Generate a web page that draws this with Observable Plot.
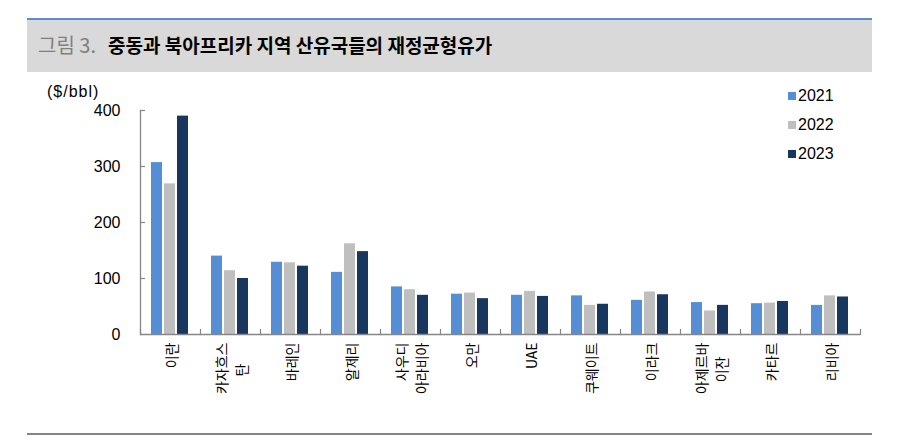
<!DOCTYPE html>
<html>
<head>
<meta charset="utf-8">
<script src="https://cdn.jsdelivr.net/npm/d3@7"></script>
<script src="https://cdn.jsdelivr.net/npm/@observablehq/plot@0.6"></script>
<style>
  html, body { margin: 0; padding: 0; background: #fff; }
  #page { position: relative; width: 908px; height: 440px; overflow: hidden; }
  #header { position: absolute; left: 27px; top: 18px; width: 845px; height: 52px;
            background: #d9d9d9; border-top: 2px solid #5b8bd0; }
  #title { position: absolute; left: 38px; top: 32px; font-family: "Noto Sans CJK KR", sans-serif;
           font-size: 19px; line-height: 26px; white-space: nowrap; }
  #title .num { color: #808080; font-weight: 400; font-size: 20px; margin-right: 12px; }
  #title .main { color: #000; font-weight: 700; }
  #unit { position: absolute; left: 47px; top: 83px; font-family: "Liberation Sans", Arial, sans-serif;
          font-size: 16px; letter-spacing: 1px; color: #000; }
  #chart { position: absolute; left: 0; top: 80px; }
  #legend { position: absolute; left: 788px; top: 81px; font-family: "Liberation Sans", Arial, sans-serif;
            font-size: 16px; color: #000; }
  #legend .row { display: flex; align-items: center; height: 29px; }
  #legend .sw { width: 8px; height: 8px; margin-right: 2px; }
  #bottomline { position: absolute; left: 27px; top: 433px; width: 845px; height: 2px; background: #858585; }
</style>
</head>
<body>
<div id="page">
  <div id="header"></div>
  <div id="title"><span class="num">그림 3.</span><span class="main">중동과 북아프리카 지역 산유국들의 재정균형유가</span></div>
  <div id="unit">($/bbl)</div>
  <div id="chart"></div>
  <div id="legend"></div>
  <div id="bottomline"></div>
</div>
<script>
// Data
const countries = ["이란", "카자흐스탄", "바레인", "알제리", "사우디아라비아", "오만", "UAE", "쿠웨이트", "이라크", "아제르바이잔", "카타르", "리비아"];
// second lines are padded with ideographic/en spaces so they sit centred under the first line
const countryLabels = ["이란", "카자흐스\n탄\u3000\u2002", "바레인", "알제리", "사우디\n아라비아", "오만", "UAE", "쿠웨이트", "이라크", "아제르바\n이잔\u3000", "카타르", "리비아"];
const years = ["2021", "2022", "2023"];
const v2021 = [307, 140, 129, 111, 85, 72, 70, 69, 61, 57, 55, 52];
const v2022 = [269, 114, 128, 162, 80, 74, 77, 52, 76, 42, 56, 69];
const v2023 = [390, 100, 122, 148, 70, 64, 68, 54, 71, 52, 59, 67];
const yTicks = [0, 100, 200, 300, 400];
const colors = ["#558ed5", "#bfbfbf", "#17375e"];

const series = [v2021, v2022, v2023];
const data = [];
countries.forEach((c, i) => {
  years.forEach((yr, j) => data.push({country: c, year: yr, value: series[j][i]}));
});
const labelOf = new Map(countries.map((c, i) => [c, countryLabels[i]]));

const axisColor = "#868686";
const chart = Plot.plot({
  width: 908,
  height: 350,
  marginLeft: 139,
  marginRight: 48,
  marginTop: 30,
  marginBottom: 96,
  style: {fontFamily: "Liberation Sans, Arial, sans-serif", fontSize: "16px", color: "#000", background: "transparent"},
  fx: {domain: countries, padding: 0, axis: null, label: null},
  x: {domain: years, paddingInner: 0.15, paddingOuter: 0.88, axis: null, label: null},
  y: {domain: [0, 400], axis: null, label: null},
  color: {domain: years, range: colors},
  marks: [
    Plot.barY(data, {fx: "country", x: "year", y: "value", fill: "year"}),
    Plot.ruleY([0], {stroke: axisColor, strokeWidth: 1.3}),
    Plot.frame({anchor: "left", stroke: axisColor, strokeWidth: 1.3, facetAnchor: "left"}),
    Plot.frame({anchor: "left", insetTop: 219, stroke: axisColor, strokeWidth: 1.2}),
    Plot.frame({anchor: "right", insetTop: 219, stroke: axisColor, strokeWidth: 1.2, facetAnchor: "right"}),
    Plot.tickY(yTicks.filter(d => d > 0), {y: d => d, stroke: axisColor, strokeWidth: 1.2, insetRight: 55, facetAnchor: "left"}),
    Plot.axisY({ticks: yTicks, tickSize: 0, tickPadding: 20, tickFormat: d => String(d), fontSize: 16, fill: "#000"}),
    Plot.text(countries, {
      fx: d => d,
      text: d => labelOf.get(d),
      frameAnchor: "bottom",
      dy: 8,
      rotate: -90,
      textAnchor: "end",
      lineAnchor: "middle",
      lineHeight: 1.4,
      fontSize: 14,
      fontFamily: "Noto Sans CJK KR, sans-serif",
      fill: "#000",
      style: "letter-spacing: 2px"
    })
  ]
});
document.getElementById("chart").appendChild(chart);

// Legend
const legend = document.getElementById("legend");
years.forEach((yr, j) => {
  const row = document.createElement("div");
  row.className = "row";
  const sw = document.createElement("div");
  sw.className = "sw";
  sw.style.background = colors[j];
  const tx = document.createElement("span");
  tx.textContent = yr;
  row.appendChild(sw);
  row.appendChild(tx);
  legend.appendChild(row);
});
</script>
</body>
</html>
